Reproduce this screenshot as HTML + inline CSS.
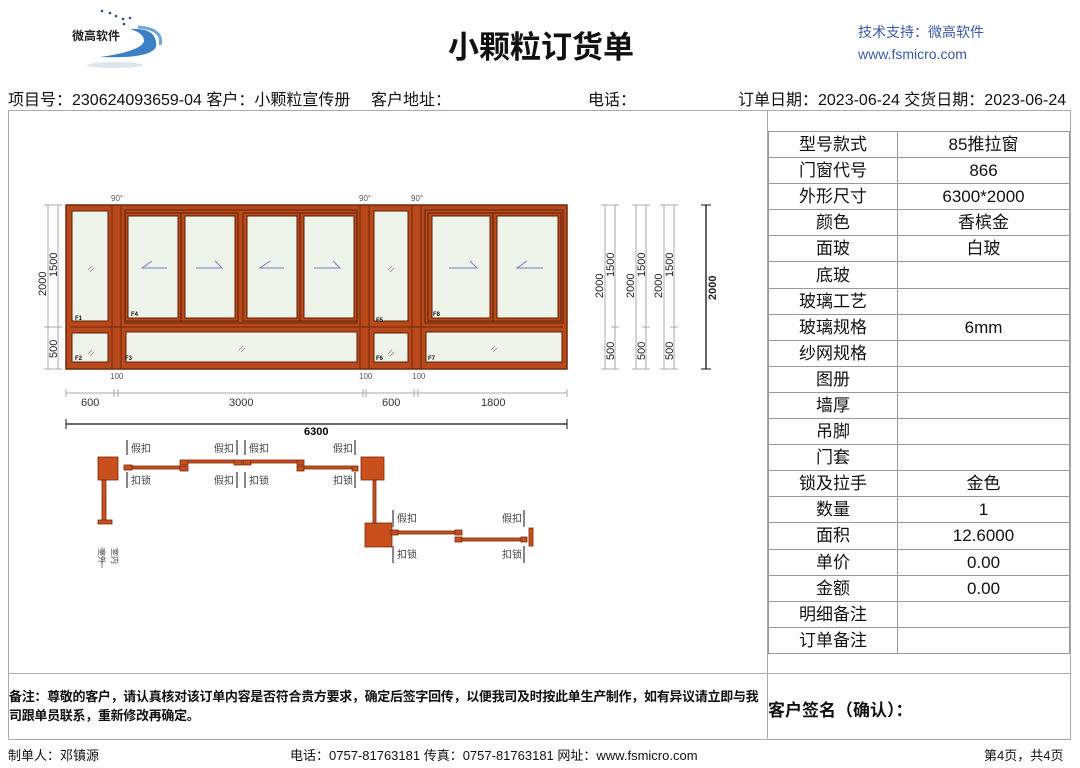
<!DOCTYPE html>
<html><head><meta charset="utf-8"><style>
body{margin:0;width:1080px;height:768px;background:#fff;position:relative;overflow:hidden;font-family:"Liberation Sans","Noto Sans CJK SC",sans-serif;color:#111}
.a{position:absolute;white-space:nowrap}
table{border-collapse:collapse;position:absolute;left:768px;top:131px;width:302px}
td{border:1px solid #999;height:25.1px;padding:0;text-align:center;font-size:17px;line-height:25px}
</style></head><body>
<svg class="a" style="left:60px;top:5px" width="110" height="65">
<g fill="#2a4a8a"><circle cx="42" cy="6" r="1.3"/><circle cx="50" cy="8" r="1.3"/><circle cx="56" cy="11" r="1.3"/><circle cx="63" cy="14" r="1.3"/><circle cx="70" cy="13" r="1.3"/><circle cx="64" cy="19" r="1.3"/></g>
<path d="M70 24 Q98 22 96 42 Q90 54 40 52 Q82 46 84 36 Q84 28 70 24Z" fill="#3d7fc4"/>
<path d="M78 22 Q104 24 100 40" stroke="#6aa6dc" stroke-width="3" fill="none"/>
<ellipse cx="55" cy="60" rx="28" ry="3" fill="#dde6ee"/>
</svg>
<div class="a" style="left:72px;top:27px;font-size:12px;font-weight:bold;color:#222">微高软件</div>
<div class="a" style="left:448px;top:22px;font-size:31px;font-weight:bold">小颗粒订货单</div>
<div class="a" style="left:858px;top:22px;font-size:14px;color:#3a5aa8">技术支持：微高软件</div>
<div class="a" style="left:858px;top:46px;font-size:14px;color:#3a5aa8">www.fsmicro.com</div>
<div class="a" style="left:8px;top:86px;font-size:16px">项目号：230624093659-04 客户：小颗粒宣传册</div>
<div class="a" style="left:371px;top:86px;font-size:16px">客户地址：</div>
<div class="a" style="left:588px;top:86px;font-size:16px">电话：</div>
<div class="a" style="left:738px;top:86px;font-size:16px">订单日期：2023-06-24 交货日期：2023-06-24</div>
<div class="a" style="left:8px;top:110px;width:1063px;height:630px;border:1px solid #aaa;box-sizing:border-box"></div>
<div class="a" style="left:767px;top:110px;width:1px;height:630px;background:#aaa"></div>
<div class="a" style="left:8px;top:673px;width:1063px;height:1px;background:#aaa"></div>
<table>
<tr><td style="width:128px">型号款式</td><td>85推拉窗</td></tr>
<tr><td>门窗代号</td><td>866</td></tr>
<tr><td>外形尺寸</td><td>6300*2000</td></tr>
<tr><td>颜色</td><td>香槟金</td></tr>
<tr><td>面玻</td><td>白玻</td></tr>
<tr><td>底玻</td><td></td></tr>
<tr><td>玻璃工艺</td><td></td></tr>
<tr><td>玻璃规格</td><td>6mm</td></tr>
<tr><td>纱网规格</td><td></td></tr>
<tr><td>图册</td><td></td></tr>
<tr><td>墙厚</td><td></td></tr>
<tr><td>吊脚</td><td></td></tr>
<tr><td>门套</td><td></td></tr>
<tr><td>锁及拉手</td><td>金色</td></tr>
<tr><td>数量</td><td>1</td></tr>
<tr><td>面积</td><td>12.6000</td></tr>
<tr><td>单价</td><td>0.00</td></tr>
<tr><td>金额</td><td>0.00</td></tr>
<tr><td>明细备注</td><td></td></tr>
<tr><td>订单备注</td><td></td></tr>
</table>
<div class="a" style="left:9px;top:687px;font-size:13px;font-weight:bold;line-height:19px;white-space:normal;width:756px;letter-spacing:-0.3px">备注：尊敬的客户，请认真核对该订单内容是否符合贵方要求，确定后签字回传，以便我司及时按此单生产制作，如有异议请立即与我司跟单员联系，重新修改再确定。</div>
<div class="a" style="left:768px;top:696px;font-size:17px;font-weight:bold">客户签名（确认）：</div>
<div class="a" style="left:8px;top:745px;font-size:13px">制单人：邓镇源</div>
<div class="a" style="left:290px;top:745px;font-size:13px">电话：0757-81763181 传真：0757-81763181 网址：www.fsmicro.com</div>
<div class="a" style="left:984px;top:745px;font-size:13px">第4页，共4页</div>

<svg class="a" style="left:0;top:0" width="767" height="673" font-family="Liberation Sans, Noto Sans CJK SC, sans-serif">
<defs><style>.g{fill:#eef4ea;stroke:#5a1e06;stroke-width:1}.s{fill:none;stroke:#6b2a0c;stroke-width:1.2}.d{stroke:#aaa;stroke-width:1;fill:none}.t{font-size:8px;fill:#555}.n{font-size:6px;font-weight:bold;fill:#111}</style></defs>
<rect x="66" y="205" width="501" height="164" fill="#b9481a" stroke="#6b2a0c" stroke-width="1.5"/>
<g stroke="#6b2a0c" stroke-width="1"><line x1="112" y1="205" x2="112" y2="369"/><line x1="121" y1="205" x2="121" y2="369"/><line x1="360" y1="205" x2="360" y2="369"/><line x1="369" y1="205" x2="369" y2="369"/><line x1="412" y1="205" x2="412" y2="369"/><line x1="421" y1="205" x2="421" y2="369"/></g>
<rect x="125" y="210" width="232" height="113" class="s"/><rect x="425" y="210" width="138" height="113" class="s"/>
<line x1="70" y1="327" x2="563" y2="327" stroke="#6b2a0c"/>
<rect class="g" x="72" y="211" width="36" height="110"/><rect class="g" x="72" y="333" width="36" height="29"/>
<rect class="g" x="374" y="211" width="34" height="110"/><rect class="g" x="374" y="333" width="34" height="29"/>
<rect class="g" x="126" y="332" width="231" height="30"/><rect class="g" x="426" y="332" width="136" height="30"/>
<g class="s"><rect x="125" y="213" width="56" height="108"/><rect x="181" y="213" width="57" height="108"/><rect x="243" y="213" width="57" height="108"/><rect x="300" y="213" width="57" height="108"/><rect x="428" y="213" width="65" height="108"/><rect x="493" y="213" width="68" height="108"/></g>
<rect class="g" x="128" y="216" width="50" height="102"/><rect class="g" x="185" y="216" width="50" height="102"/><rect class="g" x="247" y="216" width="50" height="102"/><rect class="g" x="304" y="216" width="50" height="102"/><rect class="g" x="432" y="216" width="58" height="102"/><rect class="g" x="497" y="216" width="61" height="102"/>
<g stroke="#7080c8" stroke-width="1" fill="none"><path d="M167 268H142L152 261"/><path d="M196 268H222L215 261"/><path d="M284 268H260L270 261"/><path d="M314 268H340L333 261"/><path d="M449 268H477L470 261"/><path d="M543 268H517L527 261"/></g>
<g stroke="#888" stroke-width="0.8"><path d="M88 270l4-4M90 272l4-4"/><path d="M88 354l4-4M90 356l4-4"/><path d="M239 350l4-4M241 352l4-4"/><path d="M388 270l4-4M390 272l4-4"/><path d="M388 354l4-4M390 356l4-4"/><path d="M491 350l4-4M493 352l4-4"/></g>
<g class="n"><text x="75" y="320">F1</text><text x="75" y="360">F2</text><text x="131" y="316">F4</text><text x="125" y="360">F3</text><text x="376" y="322">F5</text><text x="376" y="360">F6</text><text x="433" y="316">F8</text><text x="428" y="360">F7</text></g>
<g class="t" font-size="7"><text x="111" y="201">90°</text><text x="359" y="201">90°</text><text x="411" y="201">90°</text><text x="110" y="379">100</text><text x="359" y="379">100</text><text x="412" y="379">100</text></g>
<g class="d"><line x1="48" y1="205" x2="48" y2="369"/><line x1="58" y1="205" x2="58" y2="369"/><line x1="44" y1="205" x2="62" y2="205"/><line x1="44" y1="369" x2="62" y2="369"/><line x1="44" y1="327" x2="62" y2="327"/></g>
<g font-size="11" fill="#222"><text transform="translate(46,296) rotate(-90)">2000</text><text transform="translate(57,277) rotate(-90)">1500</text><text transform="translate(57,358) rotate(-90)">500</text></g>
<g class="d"><line x1="66" y1="393" x2="567" y2="393"/><line x1="66" y1="389" x2="66" y2="397"/><line x1="114" y1="389" x2="114" y2="397"/><line x1="118" y1="389" x2="118" y2="397"/><line x1="363" y1="389" x2="363" y2="397"/><line x1="366" y1="389" x2="366" y2="397"/><line x1="414" y1="389" x2="414" y2="397"/><line x1="418" y1="389" x2="418" y2="397"/><line x1="567" y1="389" x2="567" y2="397"/></g>
<g font-size="11" fill="#333"><text x="81" y="406">600</text><text x="229" y="406">3000</text><text x="382" y="406">600</text><text x="481" y="406">1800</text></g>
<line x1="66" y1="424" x2="567" y2="424" stroke="#111" stroke-width="1.3"/><line x1="66" y1="419" x2="66" y2="429" stroke="#111"/><line x1="567" y1="419" x2="567" y2="429" stroke="#111"/>
<text x="304" y="435" font-size="11" font-weight="bold">6300</text>
<g class="d">
<line x1="605" y1="205" x2="605" y2="369"/><line x1="615" y1="205" x2="615" y2="369"/><line x1="601" y1="205" x2="619" y2="205"/><line x1="601" y1="369" x2="619" y2="369"/><line x1="611" y1="327" x2="619" y2="327"/>
<line x1="636" y1="205" x2="636" y2="369"/><line x1="646" y1="205" x2="646" y2="369"/><line x1="632" y1="205" x2="650" y2="205"/><line x1="632" y1="369" x2="650" y2="369"/><line x1="642" y1="327" x2="650" y2="327"/>
<line x1="664" y1="205" x2="664" y2="369"/><line x1="674" y1="205" x2="674" y2="369"/><line x1="660" y1="205" x2="678" y2="205"/><line x1="660" y1="369" x2="678" y2="369"/><line x1="670" y1="327" x2="678" y2="327"/></g>
<g font-size="11" fill="#222"><text transform="translate(603,298) rotate(-90)">2000</text><text transform="translate(614,277) rotate(-90)">1500</text><text transform="translate(614,360) rotate(-90)">500</text>
<text transform="translate(634,298) rotate(-90)">2000</text><text transform="translate(645,277) rotate(-90)">1500</text><text transform="translate(645,360) rotate(-90)">500</text>
<text transform="translate(662,298) rotate(-90)">2000</text><text transform="translate(673,277) rotate(-90)">1500</text><text transform="translate(673,360) rotate(-90)">500</text>
<text transform="translate(716,300) rotate(-90)" font-weight="bold">2000</text></g>
<line x1="706" y1="205" x2="706" y2="369" stroke="#111" stroke-width="1.3"/><line x1="701" y1="205" x2="711" y2="205" stroke="#111"/><line x1="701" y1="369" x2="711" y2="369" stroke="#111"/>
<g fill="#c94f1c" stroke="#7a2a0c" stroke-width="0.8">
<rect x="98" y="457" width="20" height="23"/><rect x="102" y="480" width="4" height="40"/><rect x="98" y="520" width="14" height="4"/>
<rect x="124" y="465" width="8" height="5"/><rect x="132" y="466" width="48" height="3"/><rect x="180" y="460" width="8" height="5"/><rect x="180" y="466" width="8" height="5"/><rect x="188" y="460" width="46" height="3"/><rect x="234" y="460" width="8" height="5"/><rect x="243" y="460" width="8" height="5"/><rect x="251" y="460" width="46" height="3"/><rect x="297" y="460" width="7" height="5"/><rect x="297" y="466" width="7" height="5"/><rect x="304" y="466" width="48" height="3"/><rect x="352" y="466" width="6" height="5"/>
<rect x="361" y="457" width="23" height="23"/><rect x="373" y="480" width="3" height="43"/><rect x="365" y="523" width="27" height="24"/>
<rect x="391" y="530" width="7" height="5"/><rect x="398" y="531" width="57" height="3"/><rect x="455" y="530" width="7" height="5"/><rect x="455" y="537" width="7" height="5"/><rect x="462" y="538" width="60" height="3"/><rect x="521" y="537" width="6" height="5"/><rect x="529" y="528" width="4" height="18"/>
</g>
<g stroke="#888" stroke-width="2"><line x1="127" y1="440" x2="127" y2="455"/><line x1="127" y1="472" x2="127" y2="488"/><line x1="237" y1="440" x2="237" y2="455"/><line x1="245" y1="440" x2="245" y2="455"/><line x1="237" y1="472" x2="237" y2="488"/><line x1="245" y1="472" x2="245" y2="488"/><line x1="355" y1="440" x2="355" y2="455"/><line x1="355" y1="472" x2="355" y2="488"/><line x1="393" y1="510" x2="393" y2="527"/><line x1="393" y1="546" x2="393" y2="563"/><line x1="524" y1="510" x2="524" y2="527"/><line x1="524" y1="546" x2="524" y2="563"/><line x1="102" y1="547" x2="102" y2="568" stroke-width="1"/></g>
<g font-size="10" fill="#444"><text x="131" y="452">假扣</text><text x="131" y="484">扣锁</text><text x="214" y="452">假扣</text><text x="249" y="452">假扣</text><text x="214" y="484">假扣</text><text x="249" y="484">扣锁</text><text x="333" y="452">假扣</text><text x="333" y="484">扣锁</text><text x="397" y="522">假扣</text><text x="397" y="558">扣锁</text><text x="502" y="522">假扣</text><text x="502" y="558">扣锁</text>
<text transform="translate(99,548) rotate(90)" font-size="8">室外</text><text transform="translate(112,548) rotate(90)" font-size="8">室内</text></g>
</svg>
</body></html>
